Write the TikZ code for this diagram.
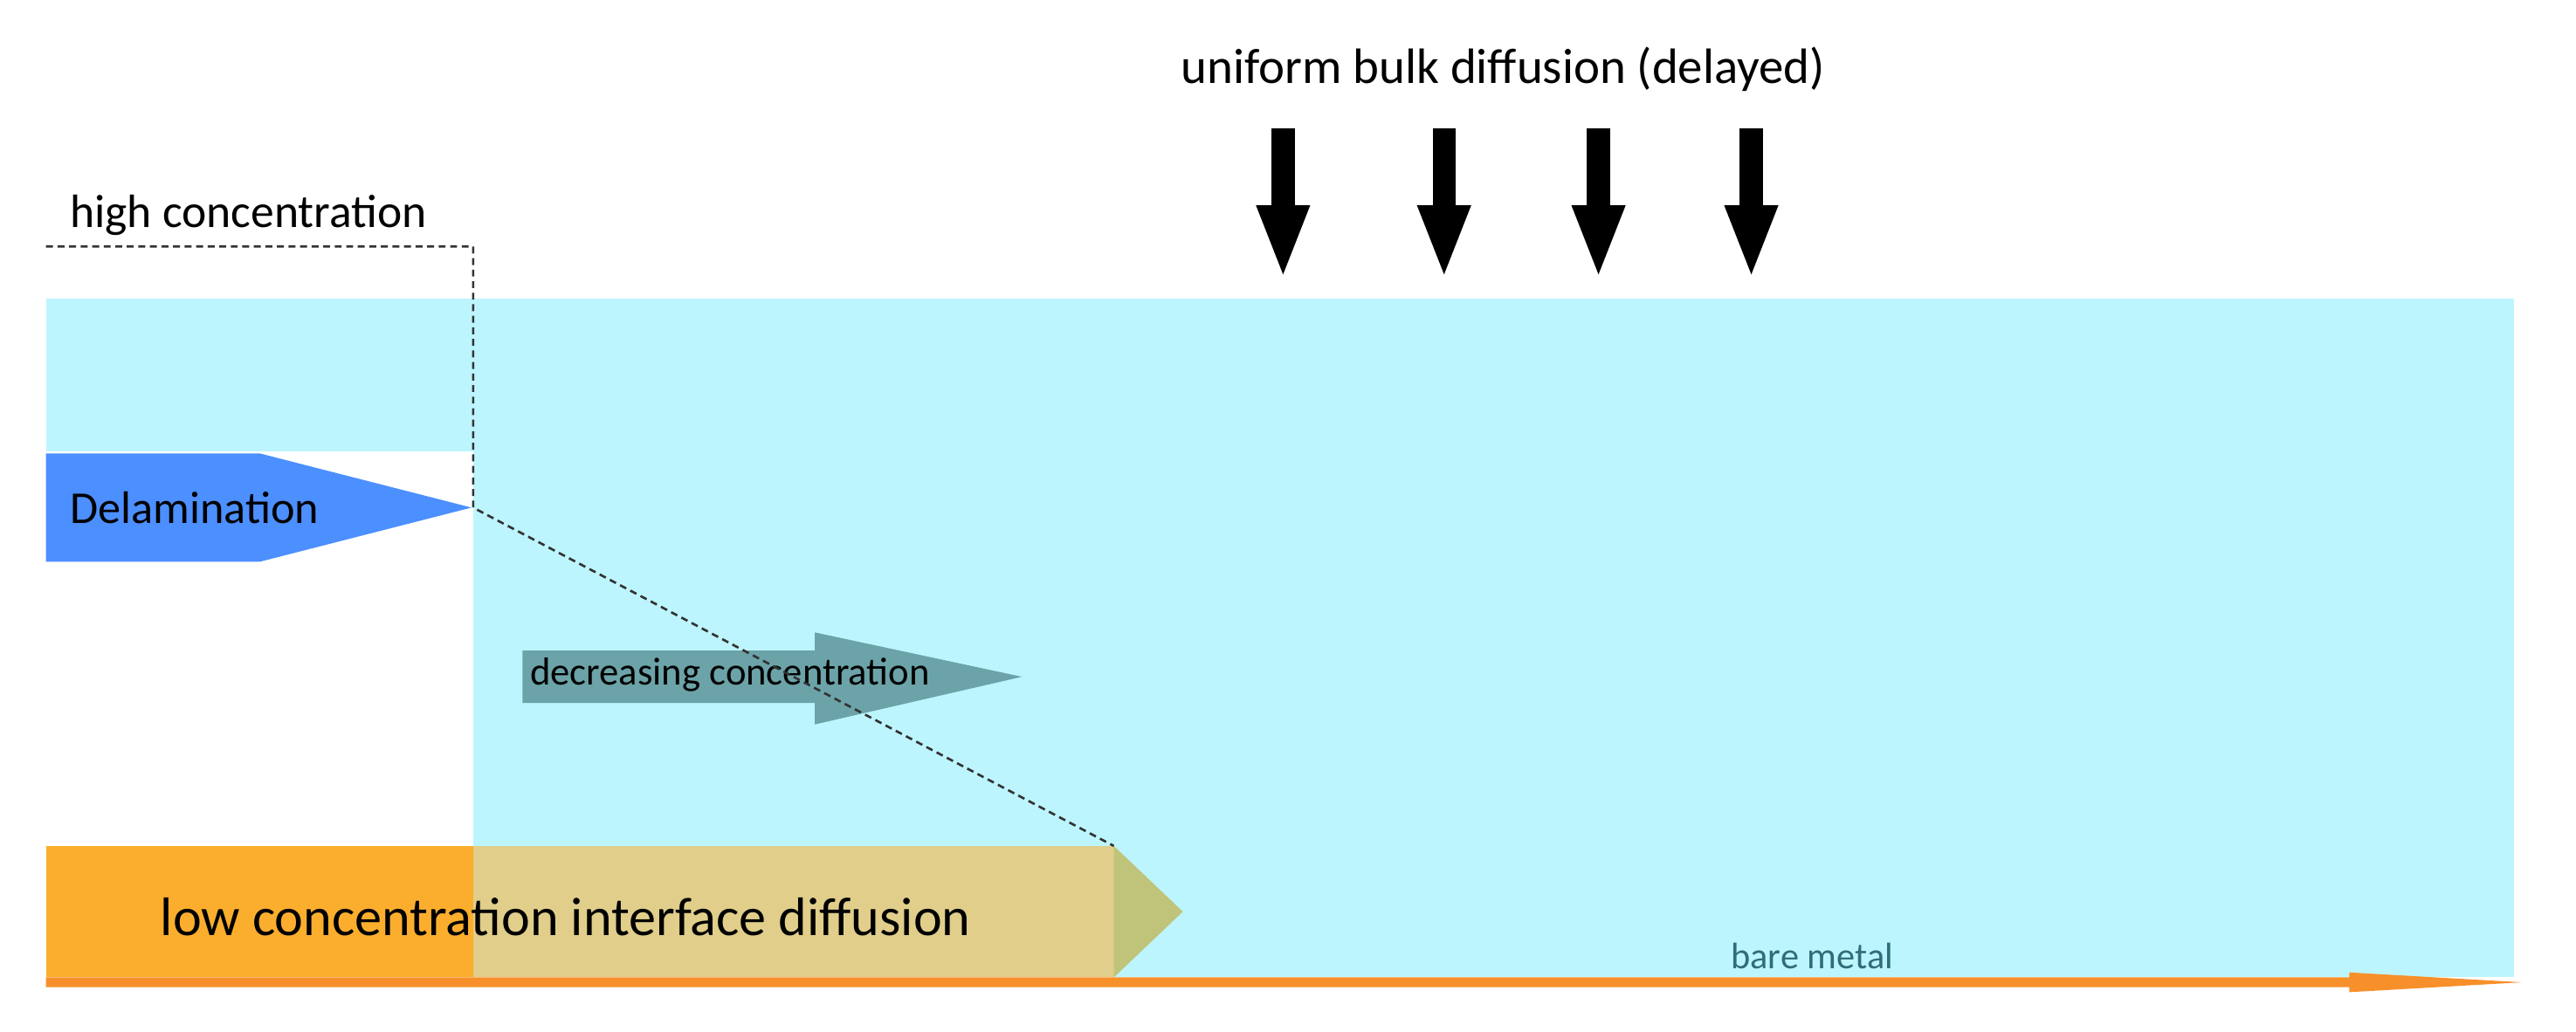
\documentclass[tikz,border=0pt]{standalone}
\usepackage{fontspec}
\setmainfont{Carlito}
\usetikzlibrary{arrows.meta}
\definecolor{coating}{HTML}{BDF5FE}
\definecolor{delam}{HTML}{4C8FFF}
\definecolor{decr}{HTML}{6BA3A8}
\definecolor{lowc}{HTML}{FBAE2D}
\definecolor{lowtan}{HTML}{E0CE8A}
\definecolor{lowtip}{HTML}{BFC47A}
\definecolor{metal}{HTML}{F7902A}
\definecolor{metaltxt}{HTML}{2E6E7A}
\tikzset{
	label/.style={inner sep=0pt, anchor=west},
	bulk/.style={line width=1.4mm, -{Triangle[width=2.9mm,length=4.5mm]}},
	conc/.style={dash pattern=on 1.2pt off 0.8pt, line width=0.4pt, black!80}
}
\begin{document}
\begin{tikzpicture}[x=0.1mm, y=-0.1mm]
		\useasboundingbox (0,0) rectangle (1568,628);
		%coating
		\fill[coating] (28,182) rectangle (1530,595);
		\fill[white] (28,275) rectangle (288,515);
		%delamination
		\fill[delam] (28,276) -- (158,276) -- (287,309) -- (158,342) -- (28,342) -- cycle;
		\node[label, font=\fontsize{7.9}{9}\selectfont] (delamtxt) at (42,309) {Delamination};
		%decreasing concentration
		\fill[decr] (318,396) -- (496,396) -- (496,385) -- (622,412) -- (496,441) -- (496,428) -- (318,428) -- cycle;
		\node[label, font=\fontsize{6.75}{8}\selectfont] (decrtxt) at (322,411) {decreasing concentration};
		%interface diffusion
		\fill[lowc] (28,515) rectangle (288,595);
		\fill[lowtan] (288,515) rectangle (678,595);
		\fill[lowtip] (678,515) -- (720,555) -- (678,595) -- cycle;
		\node[label, font=\fontsize{9.4}{11}\selectfont] (lowtxt) at (97,558) {low concentration interface diffusion};
		%bare metal
		\fill[metal] (28,595) -- (1430,595) -- (1430,592) -- (1535,598) -- (1430,604) -- (1430,601) -- (28,601) -- cycle;
		\node[label, text=metaltxt, font=\fontsize{6.4}{8}\selectfont] (metaltxt) at (1053,582) {bare metal};
		%concentration profile
		\node[label, font=\fontsize{8.1}{9}\selectfont] (hightxt) at (42,131) {high concentration};
		\coordinate (c0) at (28,150);
		\coordinate (c1) at (288,150);
		\coordinate (c2) at (288,309);
		\coordinate (c3) at (678,515);
		\draw[conc] (c0) -- (c1) -- (c2) -- (c3);
		%bulk diffusion
		\node[font=\fontsize{8.6}{10}\selectfont] (bulktxt) at (915,42) {uniform bulk diffusion (delayed)};
		\foreach \x [count=\i] in {781,879,973,1066} {
			\coordinate (b\i) at (\x,78);
			\coordinate (e\i) at (\x,170);
			\draw[bulk] (b\i) -- (e\i);
		}
	\end{tikzpicture}
\end{document}
